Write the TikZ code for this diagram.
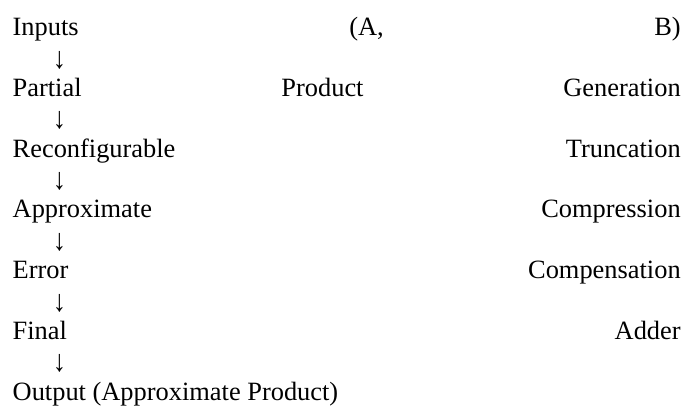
\documentclass[tikz,border=0pt]{standalone}
\usepackage{fontspec}
\setmainfont{Liberation Serif}
\begin{document}
\begin{tikzpicture}[x=1pt,y=-1pt,
  rowtext/.style={anchor=base west,inner sep=0pt,font=\fontsize{26.4}{30.4}\selectfont},
  arrowglyph/.style={anchor=base,inner sep=0pt,yscale=1.15,font=\fontsize{26.4}{30.4}\selectfont}]
\useasboundingbox (0,0) rectangle (699,407);
\def\rowwidth{668pt}
\node[rowtext] (r0) at (12.5,35.7) {\hbox to \rowwidth{Inputs\hfill(A,\hfill B)}};
\node[arrowglyph] (a1) at (59.5,68.1) {↓};
\node[rowtext] (r1) at (12.5,96.4) {\hbox to \rowwidth{Partial\hfill Product\hfill Generation}};
\node[arrowglyph] (a2) at (59.5,128.8) {↓};
\node[rowtext] (r2) at (12.5,157.1) {\hbox to \rowwidth{Reconfigurable\hfill Truncation}};
\node[arrowglyph] (a3) at (59.5,189.5) {↓};
\node[rowtext] (r3) at (12.5,217.9) {\hbox to \rowwidth{Approximate\hfill Compression}};
\node[arrowglyph] (a4) at (59.5,250.2) {↓};
\node[rowtext] (r4) at (12.5,278.6) {\hbox to \rowwidth{Error\hfill Compensation}};
\node[arrowglyph] (a5) at (59.5,311.0) {↓};
\node[rowtext] (r5) at (12.5,339.3) {\hbox to \rowwidth{Final\hfill Adder}};
\node[arrowglyph] (a6) at (59.5,371.7) {↓};
\node[rowtext] (r6) at (12.5,400.0) {Output (Approximate Product)};
\end{tikzpicture}
\end{document}
